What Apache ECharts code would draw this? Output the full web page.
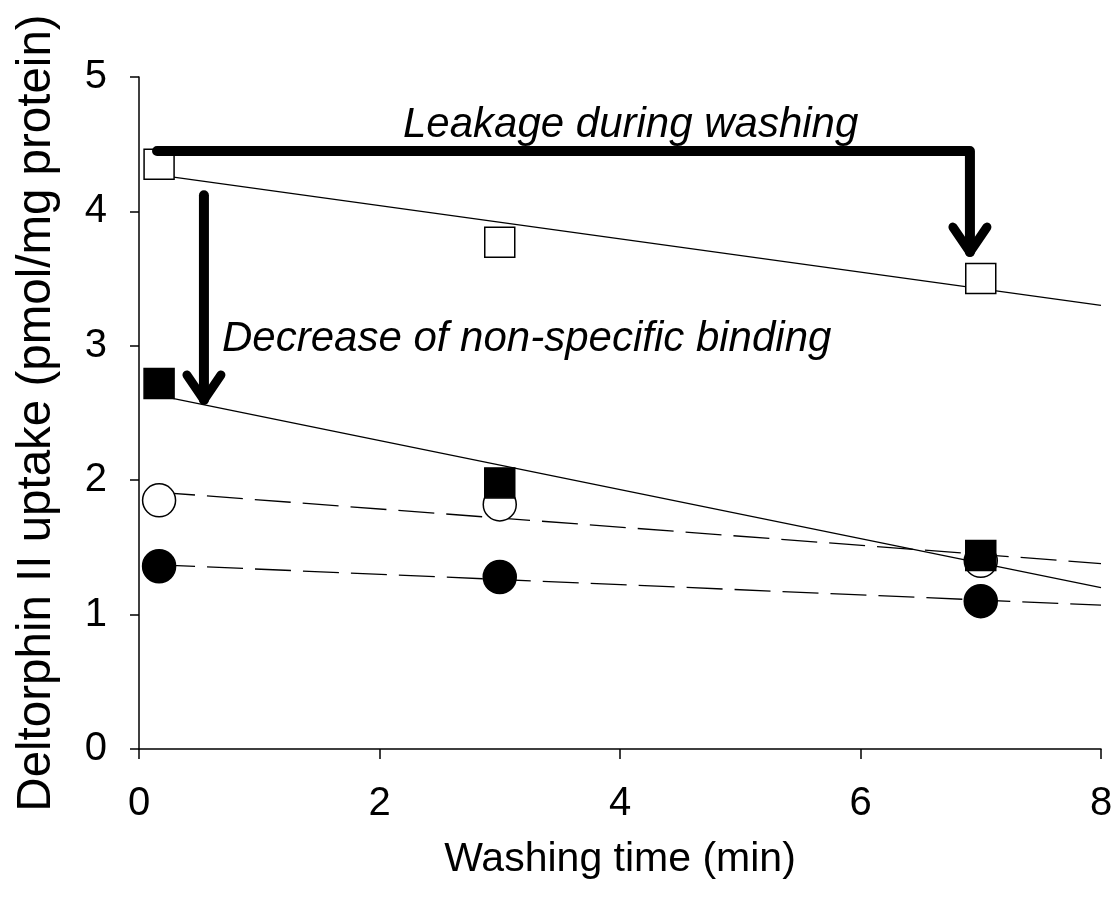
<!DOCTYPE html>
<html>
<head>
<meta charset="utf-8">
<script src="https://cdn.jsdelivr.net/npm/echarts@6/dist/echarts.min.js"></script>
<style>html,body{margin:0;padding:0;background:#fff;}#c{width:1116px;height:903px;}</style>
</head>
<body>
<div id="c"></div>
<script>
// ---- data ----
const times = [0.167, 3, 7];
const openSquare = [4.35, 3.77, 3.50];
const filledSquare = [2.72, 1.98, 1.44];
const openCircle = [1.85, 1.82, 1.40];
const filledCircle = [1.36, 1.28, 1.10];

// regression lines (end points)
const fitX = [0.167, 8];
const fitOpenSquare = [4.27, 3.30];
const fitFilledSquare = [2.63, 1.20];
const fitOpenCircle = [1.91, 1.38];
const fitFilledCircle = [1.37, 1.07];

// annotation arrows (path points in data units; last point = arrow tip)
const leakArrowX = [0.15, 6.91, 6.91];
const leakArrowY = [4.45, 4.45, 3.66];
const nsbArrowX = [0.54, 0.54];
const nsbArrowY = [4.12, 2.56];

const xTicks = [0, 2, 4, 6, 8];
const yTicks = [0, 1, 2, 3, 4, 5];

const FONT = "'Liberation Sans', Arial, sans-serif";

function pairs(xs, ys) { return xs.map((x, i) => [x, ys[i]]); }

function arrowSeries(xs, ys) {
  return {
    type: 'custom',
    z: 10,
    silent: true,
    data: [[xs[0], ys[0]]],
    renderItem: function (params, api) {
      const pts = xs.map((x, i) => api.coord([x, ys[i]]));
      const tip = pts[pts.length - 1];
      const tipC = [tip[0], tip[1] - 5];
      const shaft = pts.slice(0, -1).concat([tipC]);
      const head = [[tipC[0] - 17, tipC[1] - 25], tipC, [tipC[0] + 17, tipC[1] - 25]];
      return {
        type: 'group',
        children: [
          { type: 'polyline', shape: { points: shaft },
            style: { stroke: '#000', lineWidth: 10, fill: null, lineCap: 'round', lineJoin: 'round' } },
          { type: 'polyline', shape: { points: head },
            style: { stroke: '#000', lineWidth: 9, fill: null, lineCap: 'round', lineJoin: 'round' } }
        ]
      };
    }
  };
}

function fitLine(ys, dashed) {
  return {
    type: 'line', data: pairs(fitX, ys), symbol: 'none', z: 2, silent: true,
    lineStyle: { color: '#000', width: 1.3, type: dashed ? [36, 12] : 'solid' }
  };
}

function scatter(ys, symbol, size, filled, z) {
  return {
    type: 'scatter', data: pairs(times, ys), symbol: symbol, symbolSize: size, z: z,
    itemStyle: { color: filled ? '#000' : '#fff', borderColor: '#000', borderWidth: 1.5, opacity: 1 }
  };
}

const chart = echarts.init(document.getElementById('c'), null, { renderer: 'canvas' });
chart.setOption({
  backgroundColor: '#fff',
  animation: false,
  grid: { left: 139, right: 15, top: 77, bottom: 154, containLabel: false },
  xAxis: {
    type: 'value', min: xTicks[0], max: xTicks[xTicks.length - 1], interval: 2,
    name: 'Washing time (min)', nameLocation: 'middle', nameGap: 90,
    nameTextStyle: { fontFamily: FONT, fontSize: 41, color: '#000' },
    axisLine: { show: true, lineStyle: { color: '#000', width: 1.5 } },
    axisTick: { show: true, inside: false, length: 10, lineStyle: { color: '#000', width: 1.5 } },
    axisLabel: { fontFamily: FONT, fontSize: 40, color: '#000', margin: 35 },
    splitLine: { show: false }
  },
  yAxis: {
    type: 'value', min: yTicks[0], max: yTicks[yTicks.length - 1], interval: 1,
    name: 'Deltorphin II uptake (pmol/mg protein)', nameLocation: 'middle', nameGap: 78,
    nameTextStyle: { fontFamily: FONT, fontSize: 47.5, color: '#000' },
    axisLine: { show: true, lineStyle: { color: '#000', width: 1.5 } },
    axisTick: { show: true, inside: false, length: 9, lineStyle: { color: '#000', width: 1.5 } },
    axisLabel: { fontFamily: FONT, fontSize: 40, color: '#000', margin: 32 },
    splitLine: { show: false }
  },
  graphic: [
    { type: 'text', left: 403, top: 104, silent: true,
      style: { text: 'Leakage during washing', fontFamily: FONT, fontSize: 42, fontStyle: 'italic', fill: '#000' } },
    { type: 'text', left: 222, top: 318, silent: true,
      style: { text: 'Decrease of non-specific binding', fontFamily: FONT, fontSize: 42, fontStyle: 'italic', fill: '#000' } }
  ],
  series: [
    fitLine(fitOpenSquare, false),
    fitLine(fitFilledSquare, false),
    fitLine(fitOpenCircle, true),
    fitLine(fitFilledCircle, true),
    scatter(openSquare, 'rect', 30, false, 3),
    scatter(openCircle, 'circle', 33, false, 4),
    scatter(filledCircle, 'circle', 33, true, 5),
    scatter(filledSquare, 'rect', 30, true, 6),
    arrowSeries(leakArrowX, leakArrowY),
    arrowSeries(nsbArrowX, nsbArrowY)
  ]
});
</script>
</body>
</html>
